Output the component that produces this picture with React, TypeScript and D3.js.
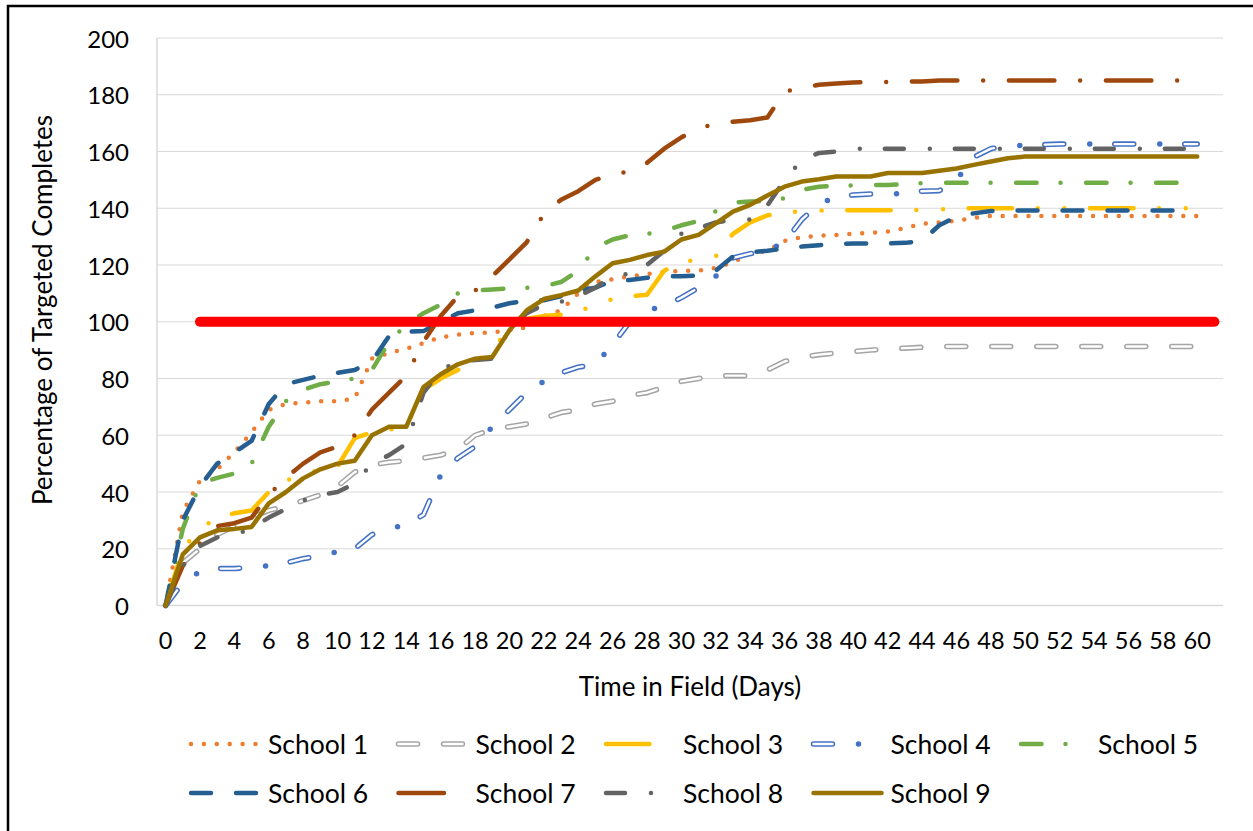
import React from 'react';
import * as d3 from 'd3';

// Categories (days in field); the axis has one extra category (61) used by the target line
const DAYS = d3.range(0, 62);
const X_TICK_LABELS = [0, 2, 4, 6, 8, 10, 12, 14, 16, 18, 20, 22, 24, 26, 28, 30, 32, 34, 36, 38, 40, 42, 44, 46, 48, 50, 52, 54, 56, 58, 60];
const Y_TICK_LABELS = [0, 20, 40, 60, 80, 100, 120, 140, 160, 180, 200];

const TARGET_VALUE = 100;
const TARGET_FROM = 2;
const TARGET_TO = 61;

const SCHOOL_1 = [0, 33, 44, 48, 54, 61, 69, 71, 71.5, 72, 72, 73, 87, 89, 90.5, 92.5, 94.5, 95.5, 96, 96.2, 97, 98, 102, 104, 110, 114, 115, 116, 116.8, 117.5, 118, 118, 119, 121, 124, 125, 128.5, 129.8, 130.3, 130.6, 131, 131.3, 131.8, 133, 134.5, 135, 135.6, 136.6, 137.3, 137.3, 137.3, 137.3, 137.3, 137.3, 137.3, 137.3, 137.3, 137.3, 137.3, 137.3, 137.3];
const SCHOOL_2 = [0, 15, 20, 25, 28, 31, 33.5, 35, 37, 39, 42, 47, 49.5, 50.5, 51, 52, 53, 55, 60, 62, 63, 64, 66, 68, 69, 71, 72, 74, 75, 77, 79, 80, 81, 81, 81, 83, 86, 87.5, 88.4, 89, 89.5, 90, 90.4, 90.7, 91, 91.3, 91.3, 91.3, 91.3, 91.3, 91.3, 91.3, 91.3, 91.3, 91.3, 91.3, 91.3, 91.3, 91.3, 91.3, 91.3];
const SCHOOL_3 = [0, 20, 27, 31, 32.5, 33.5, 40, 44, 46, 48, 49, 59, 61, 62, 63, 76, 80, 83, 86, 90, 98, 101, 102, 102.5, 103.5, 106, 108, 109, 109.5, 118, 121, 122, 123, 131, 135, 137.5, 138.3, 139, 139.2, 139.3, 139.3, 139.3, 139.3, 139.4, 139.4, 139.5, 140, 140, 140, 140, 140, 140, 140, 140, 140, 140, 140, 140, 140, 140, 140];
const SCHOOL_4 = [0, 8, 12, 13, 13, 13.5, 14, 15, 16.5, 17.5, 19, 20, 25, 27, 28.5, 32, 46, 52, 56, 63, 69, 75, 79, 82, 84, 85, 92, 100, 104, 105.5, 108.5, 112, 116, 122.5, 124, 125, 128, 136, 141.5, 144, 144.7, 145, 145, 145.3, 146, 146.2, 150, 158, 161, 162, 162.2, 162.4, 162.6, 162.6, 162.6, 162.6, 162.6, 162.6, 162.6, 162.6, 162.6];
const SCHOOL_5 = [0, 27, 43, 45, 46.5, 50, 63, 72, 76, 78, 79, 80, 83, 93, 99, 103, 106, 110, 111, 111.4, 111.7, 112, 112.5, 114, 118, 126, 129, 130.5, 131, 132, 134, 135.5, 139, 142, 142.4, 142.5, 143.5, 146.5, 147.6, 147.9, 148, 148.2, 148.2, 148.5, 148.8, 149, 149, 149, 149, 149, 149, 149, 149, 149, 149, 149, 149, 149, 149, 149, 149];
const SCHOOL_6 = [0, 30, 42, 50, 54, 58, 71, 78, 79.5, 81, 82, 83, 86, 95, 96.5, 96.7, 100, 103, 104, 105, 106.5, 107.5, 107.6, 109, 111, 112, 114.5, 114.7, 115.5, 116, 116, 116.3, 118, 123, 124.5, 125, 125.8, 126.5, 127, 127.3, 127.6, 127.6, 127.6, 127.8, 128.5, 134, 137, 138.2, 139, 139.2, 139.2, 139.2, 139.2, 139.2, 139.2, 139.2, 139.2, 139.2, 139.2, 139.2, 139.2];
const SCHOOL_7 = [0, 14, 22, 28, 29, 31, 39, 45, 50, 54, 56, 60, 69, 75, 81, 93, 102, 109, 111, 116, 122, 128, 138, 143, 146, 150, 152, 153, 156, 161, 165, 168, 170, 170.5, 171, 172, 181, 182.5, 183.5, 184, 184.3, 184.5, 184.5, 184.7, 184.7, 185, 185, 185, 185, 185, 185, 185, 185, 185, 185, 185, 185, 185, 185, 185, 185];
const SCHOOL_8 = [0, 14, 21, 24, 25, 27, 31, 34, 37, 39, 40, 43, 50, 53, 57, 75, 83, 86, 86.5, 87, 97, 103, 106, 107, 109, 112, 116, 117, 120, 125, 131, 133, 135, 136, 136, 141, 150, 157, 159.5, 160, 161, 161, 161, 161, 161, 161, 161, 161, 161, 161, 161, 161, 161, 161, 161, 161, 161, 161, 161, 161, 161];
const SCHOOL_9 = [0, 18, 24, 26.5, 27, 27.7, 36, 40, 44.8, 48, 50, 51, 60, 63, 63, 77, 81.5, 85, 87, 87.6, 97, 104, 108, 109.4, 111, 116, 120.6, 121.8, 123.5, 124.7, 129, 130.6, 134.7, 138.8, 141.2, 144.5, 147.6, 149.4, 150.2, 151.2, 151.2, 151.2, 152.4, 152.4, 152.4, 153.2, 154, 155.3, 156.5, 157.6, 158.2, 158.2, 158.2, 158.2, 158.2, 158.2, 158.2, 158.2, 158.2, 158.2, 158.2];

type Series = {
  name: string;
  values: number[];
  color: string;
  dash: string | null;
  innerDash?: string | null;
  outlined?: boolean;
};

const SERIES: Series[] = [
  { name: 'School 1', values: SCHOOL_1, color: '#ED7D31', dash: '0 12.9' },
  { name: 'School 2', values: SCHOOL_2, color: '#A5A5A5', dash: '19 26', outlined: true, innerDash: '19 26' },
  { name: 'School 3', values: SCHOOL_3, color: '#FFC000', dash: '43.5 25.6 0 26.7 0 25.6' },
  { name: 'School 4', values: SCHOOL_4, color: '#4472C4', dash: '19 26 0 25', outlined: true, innerDash: '19 51' },
  { name: 'School 5', values: SCHOOL_5, color: '#70AD47', dash: '20.5 24 0 25.5' },
  { name: 'School 6', values: SCHOOL_6, color: '#255E91', dash: '20 25' },
  { name: 'School 7', values: SCHOOL_7, color: '#9E480E', dash: '45.5 25.75 0 25.75' },
  { name: 'School 8', values: SCHOOL_8, color: '#636363', dash: '19 26 0 25' },
  { name: 'School 9', values: SCHOOL_9, color: '#997300', dash: null },
];

const FONT = 'Lato, "Open Sans", sans-serif';
const W = 1253;
const H = 831;
const PLOT = { left: 157, right: 1223, top: 38, bottom: 605.5 };

export default function App() {
  const x = d3.scalePoint<number>().domain(DAYS).range([PLOT.left, PLOT.right]).padding(0.5);
  const y = d3.scaleLinear().domain([0, 200]).range([PLOT.bottom, PLOT.top]);
  const line = d3
    .line<number>()
    .x((_, i) => x(i) as number)
    .y((v) => y(v));

  const lineW = 4.5;

  const renderStroke = (s: Series, d: string, key: string) => {
    if (s.outlined) {
      return (
        <g key={key}>
          <path d={d} fill="none" stroke={s.color} strokeWidth={5.5} strokeDasharray={s.dash || undefined} strokeLinecap="round" strokeLinejoin="round" />
          <path d={d} fill="none" stroke="#FFFFFF" strokeWidth={2.4} strokeDasharray={s.innerDash || undefined} strokeLinecap="round" strokeLinejoin="round" />
        </g>
      );
    }
    return (
      <path key={key} d={d} fill="none" stroke={s.color} strokeWidth={lineW} strokeDasharray={s.dash || undefined} strokeLinecap="round" strokeLinejoin="round" />
    );
  };

  const legendRows = [SERIES.slice(0, 5), SERIES.slice(5)];
  const legendY = [744, 793];
  const legendX0 = 191;
  const legendStep = 207.5;
  const sampleLen = 68;

  return (
    <svg width={W} height={H} style={{ position: 'absolute', left: 0, top: 0, background: '#fff' }} fontFamily={FONT}>
      <rect x={0} y={0} width={W} height={H} fill="#fff" />
      {/* outer frame */}
      <path d={`M8,${H + 5} L8,6 L${W + 5},6`} fill="none" stroke="#000" strokeWidth={2.5} />

      {/* gridlines */}
      {Y_TICK_LABELS.filter((v) => v > 0).map((v) => (
        <line key={v} x1={PLOT.left} x2={PLOT.right} y1={y(v)} y2={y(v)} stroke="#D9D9D9" strokeWidth={1.2} />
      ))}
      {/* axes */}
      <line x1={PLOT.left} x2={PLOT.right} y1={y(0)} y2={y(0)} stroke="#D9D9D9" strokeWidth={1.5} />
      <line x1={PLOT.left} x2={PLOT.left} y1={PLOT.top} y2={y(0)} stroke="#D9D9D9" strokeWidth={1.5} />

      {/* y tick labels */}
      {Y_TICK_LABELS.map((v) => (
        <text key={v} x={129} y={y(v)} textAnchor="end" dominantBaseline="central" fontSize={24} fill="#000">
          {v}
        </text>
      ))}
      {/* x tick labels */}
      {X_TICK_LABELS.map((d) => (
        <text key={d} x={x(d)} y={640} textAnchor="middle" dominantBaseline="central" fontSize={23.5} fill="#000">
          {d}
        </text>
      ))}

      {/* axis titles */}
      <text x={690} y={686} textAnchor="middle" dominantBaseline="central" fontSize={26} fill="#000">
        Time in Field (Days)
      </text>
      <text transform="translate(42,310) rotate(-90)" textAnchor="middle" dominantBaseline="central" fontSize={26} fill="#000">
        Percentage of Targeted Completes
      </text>

      {/* series */}
      {SERIES.map((s, i) => renderStroke(s, line(s.values) as string, 's' + i))}

      {/* target line */}
      <line x1={x(TARGET_FROM)} x2={x(TARGET_TO)} y1={y(TARGET_VALUE)} y2={y(TARGET_VALUE)} stroke="#FF0000" strokeWidth={10} strokeLinecap="round" />

      {/* legend */}
      {legendRows.map((row, r) =>
        row.map((s, c) => {
          const x0 = legendX0 + legendStep * c;
          const ly = legendY[r];
          return (
            <g key={s.name}>
              {renderStroke(s, `M${x0},${ly} L${x0 + sampleLen},${ly}`, 'l' + s.name)}
              <text x={x0 + 77} y={ly} dominantBaseline="central" fontSize={26.5} fill="#000">
                {s.name}
              </text>
            </g>
          );
        })
      )}
    </svg>
  );
}
